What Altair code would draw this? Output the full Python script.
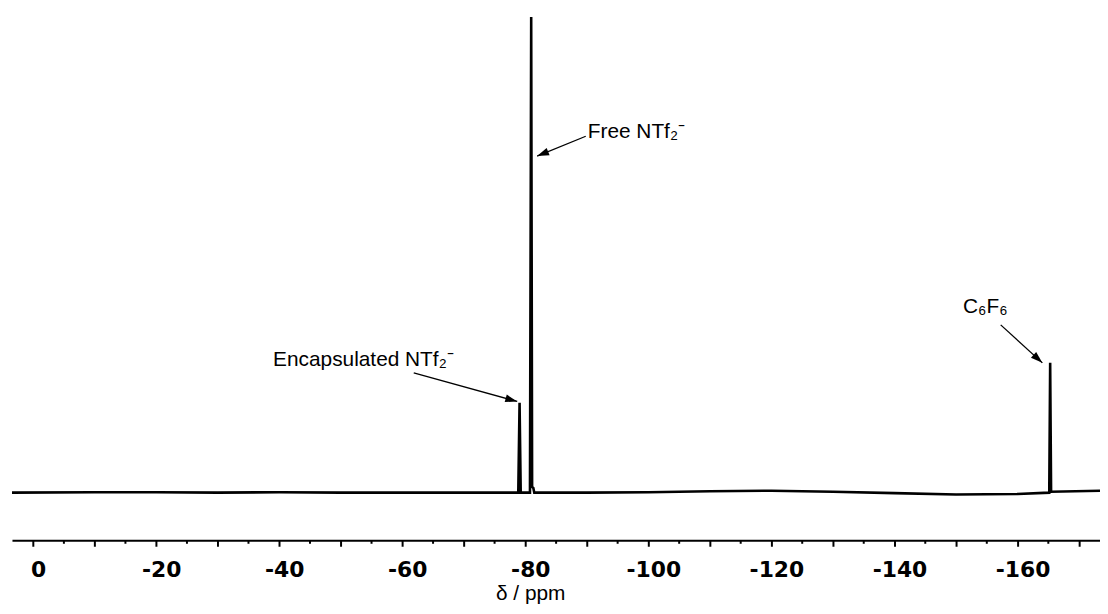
import altair as alt
import pandas as pd

# ---- spectrum (chemical shift in ppm, relative intensity) ----
ppm = [3.44, -10, -20, -30, -40, -50, -60, -70, -78.85, -79.06, -79.25,
       -80.75, -80.95, -81.1, -81.3, -81.45, -90, -100, -110, -120, -130,
       -140, -150, -160, -165.15, -165.3, -165.45, -173.4]
intensity = [0.0, 0.1, 0.1, 0.0, 0.1, 0.0, 0.0, 0.0, 0.0, 18.9, 0.0,
             0.0, 100.0, 1.2, 1.0, 0.0, 0.0, 0.1, 0.3, 0.4, 0.2,
             -0.1, -0.4, -0.3, 0.0, 27.3, 0.2, 0.4]

# ---- axis ticks ----
major_ticks = [0, -10, -20, -30, -40, -50, -60, -70, -80, -90, -100, -110,
               -120, -130, -140, -150, -160, -170]
minor_ticks = [-5, -15, -25, -35, -45, -55, -65, -75, -85, -95, -105, -115,
               -125, -135, -145, -155, -165]

# ---- annotations ----
label_text = ["Free NTf₂⁻", "Encapsulated NTf₂⁻", "C₆F₆"]
label_ppm = [-90.14, -68.36, -151.13]
label_int = [74.5, 26.7, 37.79]
label_align = ["left", "right", "left"]

arrow_start_ppm = [-89.82, -61.86, -157.26]
arrow_start_int = [74.95, 25.2, 35.28]
arrow_tip_ppm = [-81.91, -78.68, -164.03]
arrow_tip_int = [70.77, 19.17, 27.29]
arrow_angle = [247.8, 105.4, 132.4]

spec_df = pd.DataFrame({"ppm": ppm, "intensity": intensity,
                        "order": list(range(len(ppm)))})
minor_df = pd.DataFrame({"ppm": minor_ticks})
lab_df = pd.DataFrame({"text": label_text, "ppm": label_ppm,
                       "intensity": label_int, "align": label_align})
arr_df = pd.DataFrame({"x": arrow_start_ppm, "y": arrow_start_int,
                       "x2": arrow_tip_ppm, "y2": arrow_tip_int,
                       "angle": arrow_angle})

xscale = alt.Scale(domain=[3.44, -173.4], nice=False, zero=False)
yscale = alt.Scale(domain=[-10.02, 101.46], nice=False, zero=False)

label_expr = ("datum.value % 20 == 0 ? (datum.value < 0 ? '-' + "
              "format(-datum.value, 'd') : format(datum.value, 'd')) : ''")

xaxis = alt.Axis(
    values=major_ticks, labelExpr=label_expr, grid=False,
    domainColor="black", domainWidth=2, tickColor="black", tickWidth=2,
    tickSize=6, labelFont="DejaVu Sans", labelFontWeight="bold",
    labelFontSize=22, labelColor="black", labelPadding=30,
    labelBaseline="alphabetic", labelOffset=5, labelFlush=False,
    labelOverlap=False,
    title="δ / ppm", titleFont="Liberation Sans", titleFontSize=21,
    titleFontWeight="normal", titleColor="black", titleX=522, titleY=60,
    titleAlign="center", titleBaseline="alphabetic",
)

spectrum = alt.Chart(spec_df).mark_line(
    color="black", strokeWidth=2.6, clip=True
).encode(
    x=alt.X("ppm:Q", scale=xscale, axis=xaxis),
    y=alt.Y("intensity:Q", scale=yscale, axis=None),
    order="order:Q",
)

minor = alt.Chart(minor_df).mark_rule(color="black", strokeWidth=2).encode(
    x=alt.X("ppm:Q", scale=xscale),
    y=alt.value(534), y2=alt.value(537.5),
)

shafts = alt.Chart(arr_df).mark_rule(color="black", strokeWidth=1.3).encode(
    x=alt.X("x:Q", scale=xscale), y=alt.Y("y:Q", scale=yscale),
    x2="x2:Q", y2="y2:Q",
)

heads = alt.Chart(arr_df).mark_point(
    shape="M0,0L0.65,2L-0.65,2Z", filled=True, color="black", opacity=1,
    size=144, strokeWidth=0,
).encode(
    x=alt.X("x2:Q", scale=xscale), y=alt.Y("y2:Q", scale=yscale),
    angle=alt.Angle("angle:Q", scale=None),
)


def text_layer(al):
    return alt.Chart(lab_df).transform_filter(
        alt.datum.align == al
    ).mark_text(
        font="Liberation Sans", fontSize=21, color="black",
        baseline="alphabetic", align=al,
    ).encode(
        x=alt.X("ppm:Q", scale=xscale), y=alt.Y("intensity:Q", scale=yscale),
        text="text:N",
    )


chart = alt.layer(
    spectrum, minor, shafts, heads, text_layer("left"), text_layer("right")
).properties(
    width=1096, height=534,
    padding={"left": 4, "top": 0, "right": 0, "bottom": 64},
    autosize=alt.AutoSizeParams(type="none"),
    background="white",
).configure_view(stroke=None)

chart.save("out.html", embed_options={"renderer": "svg", "actions": False})
